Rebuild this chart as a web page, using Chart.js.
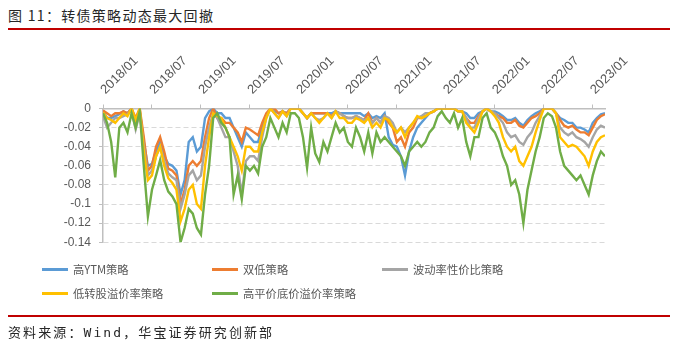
<!DOCTYPE html>
<html>
<head>
<meta charset="utf-8">
<script src="https://cdn.jsdelivr.net/npm/chart.js@4/dist/chart.umd.min.js"></script>
<style>
  body { margin: 0; width: 700px; height: 351px; background: #fff; position: relative; overflow: hidden; font-family: "Noto Sans CJK SC", sans-serif; }
  #title { position: absolute; left: 8px; top: 5px; font-size: 14px; line-height: 20px; letter-spacing: 1.3px; color: #262626; }
  .rule { position: absolute; left: 8px; width: 662px; background: #c00000; }
  #ruleTop { top: 28px; height: 2px; }
  #ruleBottom { top: 315px; height: 1.5px; }
  #source { position: absolute; left: 8px; top: 324px; font-family: "DejaVu Sans Mono", "Noto Sans CJK SC", monospace; font-size: 13px; line-height: 18px; letter-spacing: 2.1px; color: #262626; }
  #wrap { position: absolute; left: 0; top: 0; width: 700px; height: 351px; }
  .leg { position: absolute; font-size: 11.3px; line-height: 14px; color: #595959; white-space: nowrap; }
  .leg i { display: inline-block; width: 26px; height: 3px; margin-right: 5px; vertical-align: middle; position: relative; top: -1px; }
  .l0 { left: 42px; top: 262px; }
  .l1 { left: 212px; top: 262px; }
  .l2 { left: 382px; top: 262px; }
  .l3 { left: 42px; top: 286px; }
  .l4 { left: 212px; top: 286px; }
</style>
</head>
<body>
<div id="title">图 11：转债策略动态最大回撤</div>
<div class="rule" id="ruleTop"></div>
<div id="wrap"><canvas id="chart"></canvas></div>
<div id="legend"></div>
<div class="rule" id="ruleBottom"></div>
<div id="source">资料来源：Wind，华宝证券研究创新部</div>
<script>
// x axis: one point every half month, starting 2018/01
const monthStep = 0.5;
const tickLabels = ['2018/01', '2018/07', '2019/01', '2019/07', '2020/01', '2020/07',
                    '2021/01', '2021/07', '2022/01', '2022/07', '2023/01'];
const seriesNames = ['高YTM策略', '双低策略', '波动率性价比策略', '低转股溢价率策略', '高平价底价溢价率策略'];
const seriesColors = ['#5b9bd5', '#ed7d31', '#a5a5a5', '#ffc000', '#70ad47'];

// drawdown values
const highYtm = [
  -0.002, -0.01, -0.01, -0.008, -0.006, -0.003, -0.005, 0, -0.018, -0.002,
  -0.035, -0.06, -0.058, -0.045, -0.035, -0.05, -0.058, -0.06, -0.065, -0.09,
  -0.075, -0.035, -0.03, -0.045, -0.04, -0.01, -0.003, 0, -0.005, -0.005,
  -0.01, -0.01, -0.02, -0.03, -0.04, -0.025, -0.03, -0.035, -0.035, -0.02,
  -0.008, 0, -0.003, -0.005, -0.003, -0.005, 0, 0, 0, -0.005,
  -0.01, -0.005, -0.005, -0.005, -0.005, -0.005, -0.005, -0.003, -0.005, -0.005,
  -0.005, -0.005, -0.005, -0.005, -0.008, -0.005, -0.01, -0.008, -0.01, -0.005,
  -0.03, -0.038, -0.04, -0.05, -0.07, -0.045, -0.03, -0.02, -0.015, -0.01,
  -0.005, -0.003, 0, 0, 0, 0, 0, -0.003, -0.003, -0.005,
  -0.01, -0.01, -0.005, -0.003, 0, -0.003, -0.003, -0.005, -0.008, -0.012,
  -0.012, -0.01, -0.015, -0.018, -0.012, -0.008, -0.005, -0.003, 0, 0,
  0, -0.005, -0.01, -0.012, -0.015, -0.015, -0.02, -0.02, -0.022, -0.025,
  -0.015, -0.01, -0.006, -0.005
];
const doubleLow = [
  -0.002, -0.005, -0.008, -0.005, -0.005, -0.003, -0.005, 0, -0.01, 0,
  -0.03, -0.065, -0.06, -0.04, -0.03, -0.045, -0.063, -0.065, -0.07, -0.1,
  -0.085, -0.06, -0.055, -0.06, -0.055, -0.03, -0.01, 0, -0.01, -0.01,
  -0.015, -0.015, -0.02, -0.025, -0.035, -0.02, -0.022, -0.025, -0.028, -0.015,
  -0.005, 0, 0, -0.005, -0.003, -0.005, 0, 0, 0, -0.005,
  -0.01, -0.005, -0.005, -0.005, -0.005, -0.005, -0.008, -0.003, -0.005, -0.008,
  -0.01, -0.01, -0.008, -0.01, -0.012, -0.005, -0.015, -0.01, -0.015, -0.008,
  -0.015, -0.02, -0.035, -0.03, -0.04, -0.025, -0.02, -0.01, -0.01, -0.008,
  -0.005, -0.003, 0, 0, 0, 0, 0, -0.003, -0.003, -0.01,
  -0.015, -0.015, -0.008, -0.003, 0, -0.003, -0.005, -0.008, -0.01, -0.015,
  -0.015, -0.012, -0.018, -0.02, -0.015, -0.01, -0.008, -0.005, 0, 0,
  0, -0.005, -0.012, -0.018, -0.02, -0.018, -0.022, -0.025, -0.025, -0.028,
  -0.02, -0.012, -0.008, -0.006
];
const volValue = [
  -0.008, -0.02, -0.015, -0.01, -0.01, -0.008, -0.006, -0.002, -0.022, -0.005,
  -0.04, -0.07, -0.065, -0.05, -0.04, -0.055, -0.068, -0.072, -0.075, -0.105,
  -0.09, -0.07, -0.065, -0.075, -0.07, -0.04, -0.02, -0.005, -0.01, -0.02,
  -0.03, -0.03, -0.045, -0.06, -0.09, -0.055, -0.05, -0.05, -0.055, -0.03,
  -0.01, 0, -0.005, -0.01, -0.003, -0.008, 0, 0, 0, -0.005,
  -0.01, -0.005, -0.01, -0.012, -0.01, -0.005, -0.01, -0.003, -0.005, -0.008,
  -0.01, -0.01, -0.008, -0.01, -0.012, -0.01, -0.015, -0.01, -0.015, -0.008,
  -0.01, -0.015, -0.025, -0.02, -0.025, -0.02, -0.015, -0.01, -0.008, -0.005,
  -0.005, -0.003, 0, 0, 0, 0, 0, -0.003, -0.003, -0.01,
  -0.02, -0.02, -0.01, -0.003, 0, -0.003, -0.005, -0.01, -0.015, -0.025,
  -0.03, -0.028, -0.035, -0.038, -0.03, -0.025, -0.015, -0.008, 0, 0,
  0, -0.005, -0.02, -0.025, -0.028, -0.025, -0.03, -0.032, -0.035, -0.04,
  -0.03, -0.022, -0.018, -0.02
];
const lowPremium = [
  -0.004, -0.01, -0.012, -0.015, -0.01, -0.005, -0.008, 0, -0.012, 0,
  -0.045, -0.075, -0.07, -0.05, -0.04, -0.06, -0.073, -0.078, -0.085, -0.118,
  -0.105, -0.085, -0.08, -0.1, -0.105, -0.06, -0.03, -0.005, -0.008, -0.01,
  -0.02, -0.03, -0.04, -0.05, -0.065, -0.04, -0.04, -0.045, -0.045, -0.025,
  -0.01, 0, -0.005, -0.01, -0.003, -0.008, 0, 0, 0, -0.005,
  -0.01, -0.005, -0.01, -0.015, -0.01, -0.005, -0.01, -0.003, -0.01, -0.01,
  -0.015, -0.015, -0.01, -0.012, -0.015, -0.01, -0.02, -0.015, -0.02, -0.01,
  -0.012, -0.02, -0.025, -0.02, -0.03, -0.02, -0.015, -0.008, -0.01, -0.008,
  -0.005, -0.003, 0, 0, 0, 0, 0, -0.003, -0.003, -0.015,
  -0.02, -0.025, -0.015, -0.003, 0, -0.003, -0.008, -0.015, -0.03, -0.04,
  -0.045, -0.04, -0.055, -0.06, -0.05, -0.04, -0.025, -0.012, 0, 0,
  0, -0.005, -0.03, -0.035, -0.04, -0.038, -0.04, -0.045, -0.05, -0.06,
  -0.045, -0.035, -0.03, -0.028
];
const highParity = [
  -0.005, -0.015, -0.035, -0.072, -0.02, -0.015, -0.025, -0.005, -0.02, -0.003,
  -0.06, -0.113, -0.085, -0.07, -0.054, -0.075, -0.087, -0.092, -0.1, -0.14,
  -0.125, -0.105, -0.11, -0.125, -0.132, -0.09, -0.06, -0.01, -0.005, -0.015,
  -0.02, -0.03, -0.09, -0.07, -0.095, -0.06, -0.065, -0.06, -0.068, -0.04,
  -0.03, -0.01, -0.02, -0.03, -0.015, -0.025, -0.005, -0.005, -0.01, -0.03,
  -0.062, -0.02, -0.047, -0.056, -0.035, -0.045, -0.03, -0.015, -0.025, -0.02,
  -0.035, -0.04, -0.02, -0.03, -0.045, -0.025, -0.047, -0.025, -0.035, -0.03,
  -0.035, -0.04, -0.045, -0.05, -0.06, -0.045, -0.04, -0.035, -0.04, -0.035,
  -0.025, -0.02, -0.008, -0.003, -0.01, -0.015, -0.005, -0.02, -0.01, -0.035,
  -0.05, -0.03, -0.03, -0.01, -0.005, -0.02, -0.025, -0.035, -0.05, -0.06,
  -0.08, -0.075, -0.09, -0.12, -0.085, -0.065, -0.045, -0.03, -0.01, -0.005,
  -0.008, -0.02, -0.045, -0.06, -0.065, -0.07, -0.075, -0.07, -0.08, -0.09,
  -0.07, -0.055, -0.045, -0.05
];

const allSeries = [highYtm, doubleLow, volValue, lowPremium, highParity];

function toPoints(values) {
  return values.map((v, i) => ({ x: i * monthStep, y: v }));
}

// legend (HTML so it can sit in the 3-column layout of the original)
const legend = document.getElementById('legend');
seriesNames.forEach((name, i) => {
  const item = document.createElement('div');
  item.className = 'leg l' + i;
  item.innerHTML = '<i style="background:' + seriesColors[i] + '"></i>' + name;
  legend.appendChild(item);
});

const axisFont = { family: '"Liberation Sans", Arial, sans-serif', size: 12 };

new Chart(document.getElementById('chart'), {
  type: 'line',
  data: {
    datasets: allSeries.map((values, i) => ({
      label: seriesNames[i],
      data: toPoints(values),
      borderColor: seriesColors[i],
      backgroundColor: seriesColors[i],
      borderWidth: 2.4,
      pointRadius: 0,
      tension: 0,
      order: allSeries.length - i // last series on top, like the original
    }))
  },
  options: {
    responsive: true,
    maintainAspectRatio: false,
    animation: false,
    layout: { padding: { left: 0, top: 0, right: 95, bottom: 108.7 } },
    plugins: { legend: { display: false }, tooltip: { enabled: false } },
    scales: {
      x: {
        type: 'linear',
        position: 'top',
        min: 0,
        max: 61.5,
        afterFit: (scale) => { scale.height = 108.5; },
        ticks: {
          stepSize: 6,
          includeBounds: false,
          autoSkip: false,
          minRotation: 45,
          maxRotation: 45,
          padding: 7,
          labelOffset: 11,
          color: '#595959',
          font: { family: axisFont.family, size: 13 },
          callback: (v) => tickLabels[v / 6] || ''
        },
        grid: { drawOnChartArea: false, color: '#bfbfbf', tickLength: 4 },
        border: { color: '#bfbfbf', width: 1.5 }
      },
      y: {
        min: -0.14,
        max: 0,
        afterFit: (scale) => { scale.width = 103; },
        ticks: {
          stepSize: 0.02,
          padding: 8,
          color: '#595959',
          font: axisFont,
          callback: (v) => (v === 0 ? '0' : String(parseFloat(v.toFixed(2))))
        },
        grid: {
          color: (ctx) => (ctx.tick && ctx.tick.value === 0 ? 'rgba(0,0,0,0)' : '#d9d9d9'),
          tickColor: '#bfbfbf',
          tickLength: 4
        },
        border: { color: '#bfbfbf', width: 1.5, dash: [5, 3] }
      }
    }
  }
});
</script>
</body>
</html>
